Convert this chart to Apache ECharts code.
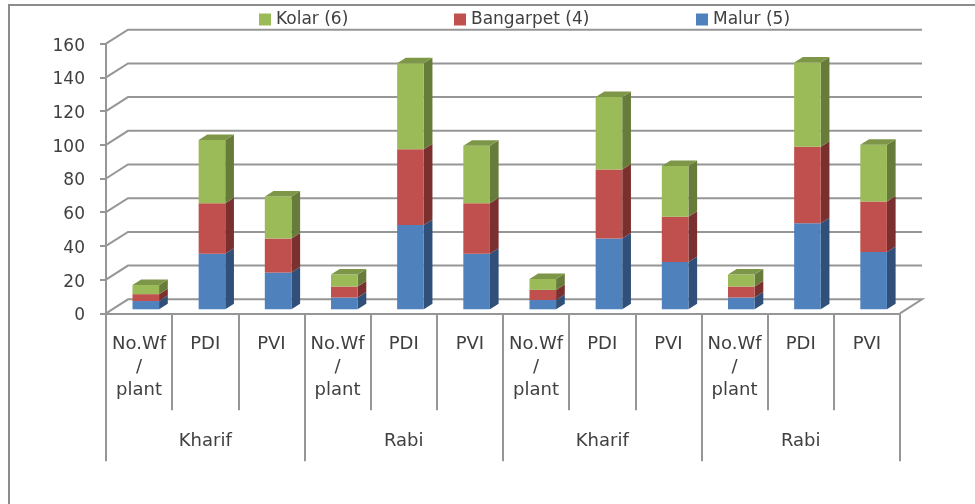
<!DOCTYPE html>
<html><head><meta charset="utf-8">
<style>html,body{margin:0;padding:0;background:#fff}#c{width:975px;height:504px}</style>
<script src="https://cdn.jsdelivr.net/npm/echarts@6/dist/echarts.min.js"></script>
</head><body><div id="c"></div>
<script>
const categories = ['No.Wf\n/\nplant','PDI','PVI','No.Wf\n/\nplant','PDI','PVI','No.Wf\n/\nplant','PDI','PVI','No.Wf\n/\nplant','PDI','PVI'];
const groups = ['Kharif','Rabi','Kharif','Rabi'];
const malur     = [4.9,33,21.8,7,50,33,5.5,42,28,7,51,34];
const bangarpet = [4.1,30,20.2,6.5,45,30,6,41,27,6.5,45.5,30];
const kolar     = [5.4,37.5,25,7.1,51,34,6.5,43,30,7.1,50,33.6];
const yTicks = [0,20,40,60,80,100,120,140,160];

const INK = '#404040', RULE = '#969696';
const FONT = '"DejaVu Sans", sans-serif';
const DX = 8.7, DY = 5.5;          // bar depth
const WX = 22, WY = 14;            // wall depth
const INX = 6.7, INY = 4;          // bar inset from the front plane

function barSeries(name, values, below, front, side, top, showTop){
  return {
    name, type:'custom', coordinateSystem:'cartesian2d', xAxisIndex:0, yAxisIndex:0, z:5,
    itemStyle:{color:front},
    encode:{x:0,y:[1,2]},
    data: values.map((v,i)=>[i, below[i], below[i]+v]),
    renderItem(params, api){
      const a = api.coord([api.value(0), api.value(1)]);
      const b = api.coord([api.value(0), api.value(2)]);
      const w = api.size([1,0])[0]*0.402;
      const x0 = a[0]-w/2+INX, x1 = x0+w, yb = a[1]-INY, yt = b[1]-INY;
      const kids = [
        {type:'polygon',shape:{points:[[x1,yb],[x1+DX,yb-DY],[x1+DX,yt-DY],[x1,yt]]},style:{fill:side}},
        {type:'rect',shape:{x:x0,y:yt,width:w,height:yb-yt},style:{fill:front}}
      ];
      if(showTop) kids.push({type:'polygon',shape:{points:[[x0,yt],[x0+DX,yt-DY],[x1+DX,yt-DY],[x1,yt]]},style:{fill:top}});
      return {type:'group',children:kids};
    }
  };
}
const zeros = malur.map(()=>0);
const s2 = malur.slice();
const s3 = malur.map((v,i)=>v+bangarpet[i]);

const wallSeries = {
  type:'custom', coordinateSystem:'cartesian2d', xAxisIndex:0, yAxisIndex:0, z:1, silent:true,
  data: yTicks.map(v=>[0,v]), encode:{x:0,y:1},
  renderItem(params, api){
    const v = api.value(1);
    const band = api.size([1,0])[0];
    const l = api.coord([0, v]), r = api.coord([categories.length-1, v]);
    const lx = l[0]-band/2, rx = r[0]+band/2, y = l[1];
    const pts = v===0 ? [[rx,y],[rx+WX,y-WY],[lx+WX,y-WY],[lx,y]]
                      : [[lx,y],[lx+WX,y-WY],[rx+WX,y-WY]];
    return {type:'polyline',shape:{points:pts},style:{stroke:RULE,lineWidth:2,fill:null}};
  }
};

const chart = echarts.init(document.getElementById('c'));
const legendBase = {top:6,icon:'rect',itemWidth:12,itemHeight:12,itemGap:6,textStyle:{color:INK,fontSize:17,fontFamily:FONT}};
chart.setOption({
  animation:false,
  backgroundColor:'#fff',
  graphic:[{type:'rect',shape:{x:9,y:5,width:990,height:520},style:{fill:'none',stroke:'#8c8c8c',lineWidth:2},silent:true}],
  legend:[
    Object.assign({},legendBase,{left:254,data:['Kolar (6)']}),
    Object.assign({},legendBase,{left:449,data:['Bangarpet (4)']}),
    Object.assign({},legendBase,{left:691,data:['Malur (5)']})
  ],
  grid:{left:106,right:75,top:43.7,bottom:190.7,containLabel:false},
  xAxis:[
    {type:'category',data:categories,position:'bottom',boundaryGap:true,
     axisLine:{show:true,lineStyle:{color:RULE,width:2}},
     axisTick:{show:true,alignWithLabel:false,length:97,lineStyle:{color:RULE,width:2}},
     axisLabel:{interval:0,margin:20,color:INK,fontSize:18,lineHeight:23,fontFamily:FONT}},
    {type:'category',data:groups,position:'bottom',boundaryGap:true,
     axisLine:{show:false},
     axisTick:{show:true,alignWithLabel:false,length:148,lineStyle:{color:RULE,width:2}},
     axisLabel:{interval:0,margin:119,color:INK,fontSize:18,fontFamily:FONT}}
  ],
  yAxis:{type:'value',min:0,max:160,interval:20,
    axisLine:{show:true,lineStyle:{color:RULE,width:2}},
    axisTick:{show:true,length:6,lineStyle:{color:RULE,width:2}},
    splitLine:{show:false},
    axisLabel:{margin:21,verticalAlign:'top',padding:[-6,0,0,0],color:INK,fontSize:17,fontFamily:FONT}},
  series:[
    wallSeries,
    barSeries('Malur (5)',malur,zeros,'#4F81BD','#30507A','#3D6594',false),
    barSeries('Bangarpet (4)',bangarpet,s2,'#C0504D','#7A302E','#943E3B',false),
    barSeries('Kolar (6)',kolar,s3,'#9BBB59','#677C3A','#7D9648',true)
  ]
});
</script></body></html>
